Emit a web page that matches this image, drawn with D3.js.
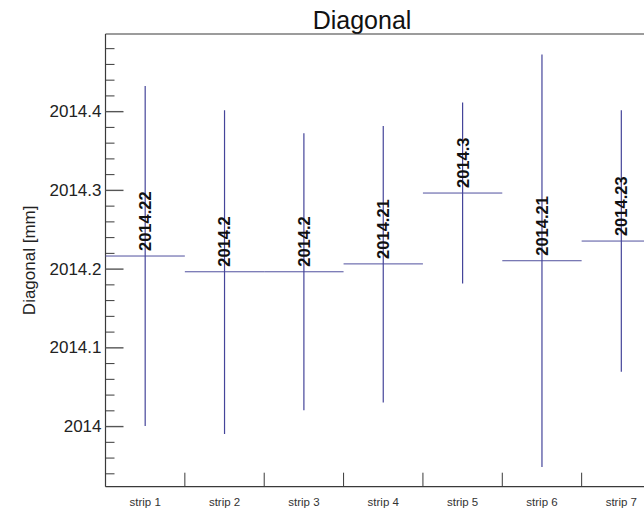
<!DOCTYPE html>
<html>
<head>
<meta charset="utf-8">
<script src="https://cdn.jsdelivr.net/npm/d3@7"></script>
<style>
  html, body { margin: 0; padding: 0; background: #fff; }
  svg { display: block; font-family: Arial, "Liberation Sans", sans-serif; }
</style>
</head>
<body>
<svg id="chart" width="644" height="520"></svg>
<script>
// Diagonal measurements per strip: mean, minimum and maximum (mm)
const categories = ["strip 1", "strip 2", "strip 3", "strip 4", "strip 5", "strip 6", "strip 7"];
const means = [2014.216, 2014.196, 2014.196, 2014.206, 2014.296, 2014.210, 2014.235];
const mins  = [2014.000, 2013.990, 2014.020, 2014.030, 2014.181, 2013.948, 2014.069];
const maxs  = [2014.432, 2014.401, 2014.372, 2014.381, 2014.411, 2014.472, 2014.401];
const majorTicks = [2014, 2014.1, 2014.2, 2014.3, 2014.4];
const minorTicks = [2013.94, 2013.96, 2013.98, 2014.02, 2014.04, 2014.06, 2014.08,
                    2014.12, 2014.14, 2014.16, 2014.18, 2014.22, 2014.24, 2014.26, 2014.28,
                    2014.32, 2014.34, 2014.36, 2014.38, 2014.42, 2014.44, 2014.46, 2014.48];

const svg = d3.select("#chart");
const plotLeft = 105.5, plotRight = 661, plotTop = 34, plotBottom = 486.7;

const x = d3.scaleBand().domain(categories).range([plotLeft, plotRight]).paddingInner(0).paddingOuter(0);
const y = d3.scaleLinear().domain([2013.923, 2014.498]).range([plotBottom, plotTop]);

const axisColor = "#3a3a3a";
const rangeColor = "#45459a";
const meanColor = "#50509e";

// Title
svg.append("text")
  .attr("x", 362).attr("y", 29)
  .attr("text-anchor", "middle")
  .attr("font-size", 25)
  .attr("fill", "#111")
  .text("Diagonal");

// Y axis title
svg.append("text")
  .attr("transform", `translate(35, ${(plotTop + plotBottom) / 2}) rotate(-90)`)
  .attr("text-anchor", "middle")
  .attr("font-size", 17)
  .attr("fill", "#222")
  .text("Diagonal [mm]");

// Frame: top border, left axis line, bottom axis line
svg.append("line")
  .attr("x1", plotLeft).attr("x2", plotRight).attr("y1", plotTop).attr("y2", plotTop)
  .attr("stroke", axisColor).attr("stroke-width", 1.2);
svg.append("line")
  .attr("x1", plotLeft).attr("x2", plotLeft).attr("y1", plotTop).attr("y2", plotBottom)
  .attr("stroke", axisColor).attr("stroke-width", 1.2);
svg.append("line")
  .attr("x1", plotLeft).attr("x2", plotRight).attr("y1", plotBottom).attr("y2", plotBottom)
  .attr("stroke", axisColor).attr("stroke-width", 1.2);

// Minor y ticks (inward)
const minorAxis = svg.append("g")
  .attr("transform", `translate(${plotLeft},0)`)
  .call(d3.axisLeft(y).tickValues(minorTicks).tickSizeInner(-9).tickSizeOuter(0).tickFormat(""));
minorAxis.select(".domain").remove();
minorAxis.selectAll(".tick line").attr("stroke", axisColor);

// Major y ticks with labels
const majorAxis = svg.append("g")
  .attr("transform", `translate(${plotLeft},0)`)
  .call(d3.axisLeft(y).tickValues(majorTicks).tickSizeInner(-18).tickSizeOuter(0).tickPadding(4)
        .tickFormat(d3.format("~f")));
majorAxis.select(".domain").remove();
majorAxis.selectAll(".tick line").attr("stroke", "#555").attr("stroke-width", 1.4);
majorAxis.selectAll(".tick text")
  .attr("font-size", 17)
  .attr("fill", "#222")
  .attr("font-family", "Arial, 'Liberation Sans', sans-serif");

// X axis labels at band centres
const xAxis = svg.append("g")
  .attr("transform", `translate(0,${plotBottom})`)
  .call(d3.axisBottom(x).tickSize(0).tickPadding(11));
xAxis.select(".domain").remove();
xAxis.selectAll(".tick text")
  .attr("font-size", 11.5)
  .attr("fill", "#333")
  .attr("font-family", "Arial, 'Liberation Sans', sans-serif");

// Category boundary ticks on the x axis
svg.append("g").selectAll("line")
  .data(categories.slice(1))
  .join("line")
  .attr("x1", d => x(d)).attr("x2", d => x(d))
  .attr("y1", plotBottom).attr("y2", plotBottom - 14)
  .attr("stroke", axisColor);

const rows = categories.map((c, i) => ({ c, mean: means[i], min: mins[i], max: maxs[i] }));
const fmt = d3.format(".2~f");

// Mean lines spanning each band
svg.append("g").selectAll("line")
  .data(rows)
  .join("line")
  .attr("x1", d => x(d.c)).attr("x2", d => x(d.c) + x.bandwidth())
  .attr("y1", d => y(d.mean)).attr("y2", d => y(d.mean))
  .attr("stroke", meanColor).attr("stroke-width", 1);

// Min-max range lines
svg.append("g").selectAll("line")
  .data(rows)
  .join("line")
  .attr("x1", d => x(d.c) + x.bandwidth() / 2).attr("x2", d => x(d.c) + x.bandwidth() / 2)
  .attr("y1", d => y(d.min)).attr("y2", d => y(d.max))
  .attr("stroke", rangeColor).attr("stroke-width", 1.2);

// Mean value labels, rotated, sitting on the mean line
svg.append("g").selectAll("text")
  .data(rows)
  .join("text")
  .attr("transform", d => `translate(${x(d.c) + x.bandwidth() / 2}, ${y(d.mean) - 5}) rotate(-90)`)
  .attr("dy", "0.36em")
  .attr("text-anchor", "start")
  .attr("font-size", 16.5)
  .attr("font-weight", "bold")
  .attr("fill", "#111")
  .text(d => fmt(d.mean));
</script>
</body>
</html>
